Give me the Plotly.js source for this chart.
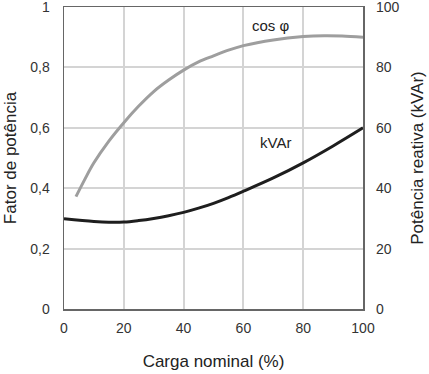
<!DOCTYPE html>
<html>
<head>
<meta charset="utf-8">
<script src="https://cdn.plot.ly/plotly-3.0.1.min.js"></script>
<style>html,body{margin:0;padding:0;background:#fff;}#chart{width:429px;height:374px;}</style>
</head>
<body>
<div id="chart"></div>
<script>
// Power factor (cos φ) vs nominal load (%)
const loadCos = [4, 7, 10, 15, 20, 25, 30, 35, 40, 45, 50, 55, 60, 70, 80, 87, 93, 100];
const cosPhi  = [0.372, 0.43, 0.484, 0.556, 0.617, 0.672, 0.72, 0.758, 0.791, 0.818, 0.838, 0.857, 0.872, 0.891, 0.902, 0.905, 0.904, 0.900];
// Reactive power (kVAr) vs nominal load (%)
const loadKvar = [0, 10, 15, 20, 25, 30, 35, 40, 45, 50, 55, 60, 70, 80, 90, 100];
const kvar     = [29.9, 29.0, 28.75, 28.8, 29.3, 30.0, 30.9, 32.0, 33.4, 35.0, 36.9, 39.0, 43.4, 48.4, 54.0, 60.0];
// Tick labels
const xTicks = [0, 20, 40, 60, 80, 100];
const yTicks = [0, 0.2, 0.4, 0.6, 0.8, 1];
const yTickText = ["0", "0,2", "0,4", "0,6", "0,8", "1"];
const y2Ticks = [0, 20, 40, 60, 80, 100];
// Labels
const xTitle = "Carga nominal (%)";
const yTitle = "Fator de potência";
const y2Title = "Potência reativa (kVAr)";
const cosLabel = "cos φ";
const kvarLabel = "kVAr";

const font = "Liberation Sans, Arial, sans-serif";

const traces = [
  {x: loadCos, y: cosPhi, type: 'scatter', mode: 'lines', xaxis: 'x', yaxis: 'y',
   line: {color: '#9e9e9e', width: 3, shape: 'spline', smoothing: 1}, hoverinfo: 'skip'},
  {x: loadKvar, y: kvar, type: 'scatter', mode: 'lines', xaxis: 'x', yaxis: 'y2',
   line: {color: '#1e1e1e', width: 3, shape: 'spline', smoothing: 1}, hoverinfo: 'skip'}
];

const layout = {
  width: 429, height: 374,
  margin: {l: 64, r: 66, t: 7, b: 65},
  paper_bgcolor: '#ffffff', plot_bgcolor: '#ffffff',
  showlegend: false,
  font: {family: font, size: 14, color: '#333'},
  xaxis: {
    range: [0, 100], tickmode: 'array', tickvals: xTicks,
    showgrid: true, gridcolor: '#d4d4d4', gridwidth: 2,
    zeroline: false, showline: true, linecolor: '#666', linewidth: 1.5, mirror: true,
    ticks: '', ticklabelstandoff: 6,
    tickfont: {family: font, size: 14, color: '#333'},
    title: {text: xTitle, font: {family: font, size: 17, color: '#222'}, standoff: 20}
  },
  yaxis: {
    range: [0, 1], tickmode: 'array', tickvals: yTicks, ticktext: yTickText,
    showgrid: true, gridcolor: '#d4d4d4', gridwidth: 2,
    zeroline: false, showline: true, linecolor: '#666', linewidth: 1.5, mirror: true,
    ticks: '', ticklabelstandoff: 10, ticklabeloverflow: 'allow',
    tickfont: {family: font, size: 14, color: '#333'},
    title: {text: yTitle, font: {family: font, size: 17, color: '#222'}, standoff: 9}
  },
  yaxis2: {
    range: [0, 100], tickmode: 'array', tickvals: y2Ticks,
    overlaying: 'y', side: 'right', anchor: 'x',
    showgrid: false, zeroline: false, showline: false,
    ticks: '', ticklabelstandoff: 12, ticklabeloverflow: 'allow',
    tickfont: {family: font, size: 14, color: '#333'},
    title: {text: y2Title, font: {family: font, size: 17, color: '#222'}, standoff: 12}
  },
  annotations: [
    {x: 69.3, y: 0.94, xref: 'x', yref: 'y', text: cosLabel, showarrow: false,
     font: {family: font, size: 15, color: '#222'}},
    {x: 70.6, y: 0.551, xref: 'x', yref: 'y', text: kvarLabel, showarrow: false,
     font: {family: font, size: 15, color: '#222'}}
  ]
};

Plotly.newPlot('chart', traces, layout, {staticPlot: true, displayModeBar: false});
</script>
</body>
</html>
